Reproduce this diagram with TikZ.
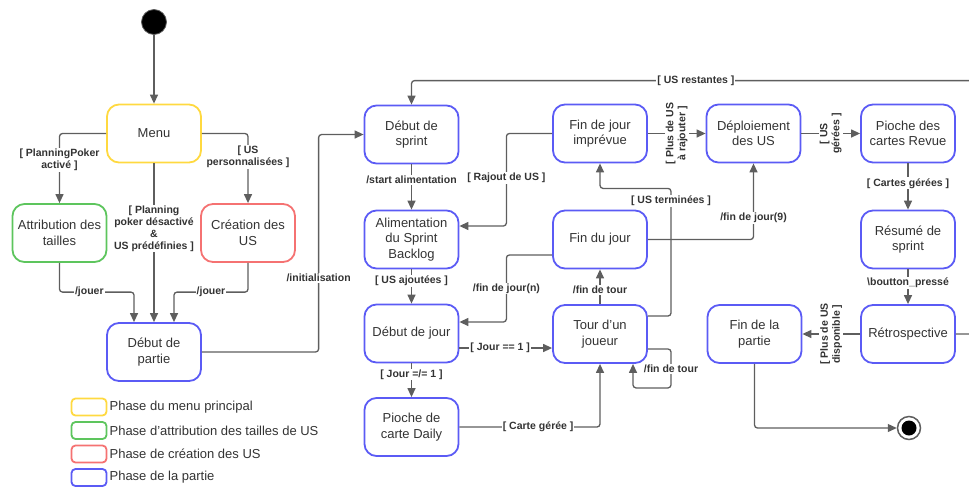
\documentclass[tikz,border=0pt]{standalone}
\usepackage{fontspec}
\setmainfont{Liberation Sans}
\usetikzlibrary{arrows.meta,calc}
\definecolor{lc}{HTML}{5E5E5E}
\definecolor{txt}{HTML}{333333}
\definecolor{cY}{HTML}{FFD940}
\definecolor{cG}{HTML}{5DC55D}
\definecolor{cR}{HTML}{F57272}
\definecolor{cB}{HTML}{5B5BF5}
\newcommand{\apos}{{\char"27}}

\begin{document}
\begin{tikzpicture}[x=1pt,y=-1pt,
  stbox/.style={draw=#1, line width=1.8pt, rounded corners=12pt, minimum width=94pt,
    minimum height=58pt, align=center, text=txt, font=\fontsize{13}{15.5}\selectfont, inner sep=1pt},
  conn/.style={draw=lc, line width=1.3pt, -{Triangle[length=9pt,width=8pt]}, rounded corners=3pt},
  lab/.style={fill=white, text=txt, font=\bfseries\fontsize{10.5}{12}\selectfont, inner sep=1pt,
    align=center, rounded corners=0pt},
  legbox/.style={draw=#1, line width=1.8pt, rounded corners=4pt, minimum width=35pt,
    minimum height=17pt, inner sep=0pt},
  legtext/.style={anchor=west, text=txt, font=\fontsize{13}{15}\selectfont, inner sep=2pt},
]
\useasboundingbox (0,0) rectangle (969,488);
\clip (0,0) rectangle (969,488);

% pseudo-states
\node[circle, fill=black, draw=lc, line width=0.8pt, minimum size=25pt, inner sep=0pt] (start) at (154,22) {};
\node[circle, draw=lc, line width=1.5pt, fill=white, minimum size=23pt, inner sep=0pt] (end) at (909,428) {};
\node[circle, fill=black, minimum size=15pt, inner sep=0pt] (endin) at (end) {};

% menu and preparation phases
\node[stbox=cY] (menu) at (154,133.5) {Menu};
\node[stbox=cG] (attr) at (59.5,233) {Attribution des\\tailles};
\node[stbox=cR] (crea) at (248,233) {Création des\\US};
\node[stbox=cB] (dpar) at (154,352) {Début de\\partie};

% game phase
\node[stbox=cB] (dspr)   at (411.5,134.5) {Début de\\sprint};
\node[stbox=cB] (alim)   at (411.5,239.5) {Alimentation\\du Sprint\\Backlog};
\node[stbox=cB] (djour)  at (411.5,333.5) {Début de jour};
\node[stbox=cB] (daily)  at (411.5,427)   {Pioche de\\carte Daily};
\node[stbox=cB] (fimp)   at (600,133.5)   {Fin de jour\\imprévue};
\node[stbox=cB] (fjour)  at (600,239.5)   {Fin du jour};
\node[stbox=cB] (tour)   at (600,334)     {Tour d\apos un\\joueur};
\node[stbox=cB] (depl)   at (753.5,133.5) {Déploiement\\des US};
\node[stbox=cB] (fpart)  at (754.5,334)   {Fin de la\\partie};
\node[stbox=cB] (revue)  at (908,133.5)   {Pioche des\\cartes Revue};
\node[stbox=cB] (resume) at (908,239.5)   {Résumé de\\sprint};
\node[stbox=cB] (retro)  at (908,334)     {Rétrospective};

% transitions: menu
\draw[conn] (start) -- (menu);
\draw[conn] (menu.west) -| node[lab,pos=0.69] {[ PlanningPoker\\activé ]} (attr.north);
\draw[conn] (menu.east) -| node[lab,pos=0.67] {[ US\\personnalisées ]} (crea.north);
\draw[conn] (menu.south) -- node[lab,pos=0.41] {[ Planning\\poker désactivé\\\&\\US prédéfinies ]} (dpar.north);
\draw[conn] (attr.south) |- node[lab,pos=0.7] {/jouer} ($(dpar.north)+(-20,-30)$) -- ($(dpar.north)+(-20,0)$);
\draw[conn] (crea.south) |- node[lab,pos=0.75] {/jouer} ($(dpar.north)+(20,-30)$) -- ($(dpar.north)+(20,0)$);
\draw[conn] (dpar.east) -| node[lab,pos=0.67] {/initialisation} ($(dspr.west)+(-45,0)$) -- (dspr.west);

% transitions: sprint and day
\draw[conn] (dspr) -- node[lab,pos=0.35] {/start alimentation} (alim);
\draw[conn] (alim) -- node[lab,pos=0.33] {[ US ajoutées ]} (djour);
\draw[conn] (djour) -- node[lab,pos=0.33] {[ Jour =/= 1 ]} (daily);
\draw[conn] (fimp.west) -| node[lab,pos=0.74] {[ Rajout de US ]} ($(alim.east)+(47,-13.5)$) -- ($(alim.east)+(0,-13.5)$);
\draw[conn] ($(fjour.west)+(0,15.5)$) -| node[lab,pos=0.75] {/fin de jour(n)} ($(djour.east)+(47,-11.5)$) -- ($(djour.east)+(0,-11.5)$);
\draw[conn] ($(djour.east)+(0,14.5)$) -- node[lab,pos=0.44] {[ Jour == 1 ]} ($(tour.west)+(0,14)$);
\draw[conn] (daily.east) -| node[lab,pos=0.28] {[ Carte gérée ]} (tour.south);
\draw[conn] (tour) -- node[lab,pos=0.4] {/fin de tour} (fjour);
\draw[conn] ($(tour.east)+(0,15)$) -| node[lab,pos=0.76] {/fin de tour} ($(tour.south)+(71,24)$) -| ($(tour.south)+(33,0)$);
\draw[conn] ($(tour.east)+(0,-18)$) -| node[lab,pos=0.95] {[ US terminées ]} ($(fimp.south)+(71,25)$) -| (fimp.south);
\draw[conn] (fjour.east) -| node[lab,pos=0.64] {/fin de jour(9)} (depl.south);

% transitions: end of sprint
\draw[conn] (fimp) -- node[lab,rotate=90] {[ Plus de US\\à rajouter ]} (depl);
\draw[conn] (depl) -- node[lab,rotate=90] {[ US\\gérées ]} (revue);
\draw[conn] (revue) -- node[lab,pos=0.43] {[ Cartes gérées ]} (resume);
\draw[conn] (resume) -- node[lab,pos=0.38] {\textbackslash boutton\_pressé} (retro);
\draw[conn] (retro) -- node[lab,rotate=90] {[ Plus de US\\disponible ]} (fpart);
\draw[conn] (fpart.south) |- (end.west);
\draw[conn] (retro.east) -| ($(dspr.north)+(600,-24)$) -| node[lab,pos=0.263] {[ US restantes ]} (dspr.north);

% legend
\node[legbox=cY] (k1) at (89,407)   {};
\node[legbox=cG] (k2) at (89,430.5) {};
\node[legbox=cR] (k3) at (89,454)   {};
\node[legbox=cB] (k4) at (89,477.5) {};
\node[legtext] (t1) at (k1.east) {Phase du menu principal};
\node[legtext] (t2) at (k2.east) {Phase d\apos attribution des tailles de US};
\node[legtext] (t3) at (k3.east) {Phase de création des US};
\node[legtext] (t4) at (k4.east) {Phase de la partie};
\end{tikzpicture}
\end{document}
